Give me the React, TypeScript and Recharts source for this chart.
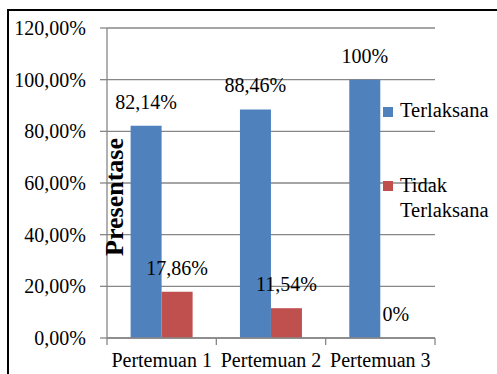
import React from 'react';
import { BarChart, Bar, XAxis, YAxis, CartesianGrid, LabelList } from 'recharts';

const categories = ['Pertemuan 1', 'Pertemuan 2', 'Pertemuan 3'];
const terlaksana = [82.14, 88.46, 100];
const tidakTerlaksana = [17.86, 11.54, 0];
const yTicks = [0, 20, 40, 60, 80, 100, 120];
const seriesNames = ['Terlaksana', 'Tidak Terlaksana'];
const seriesColors = ['#4F81BD', '#C0504D'];
const axisTitle = 'Presentase';

const data = categories.map((c, i) => ({ name: c, t: terlaksana[i], tt: tidakTerlaksana[i] }));

const W = 497;
const H = 374;
const M = { top: 28, right: 62, bottom: 0, left: 47 };
const Y_W = 60;
const X_H = 36;
const PLOT_W = W - M.left - Y_W - M.right;
const PLOT_BOTTOM = H - M.bottom - X_H;
const BAND = PLOT_W / categories.length;
const FONT = '"Liberation Serif", "Times New Roman", serif';
const GRID = '#878787';
const LABEL_OFFSET = 17;

const fmtTick = (v: number) => v.toFixed(2).replace('.', ',') + '%';
const fmtLabel = (v: number) =>
  Number.isInteger(v) ? `${v}%` : v.toFixed(2).replace('.', ',') + '%';

const XTick = (props: any) => {
  const { x, payload, index } = props;
  const half = BAND / 2;
  const y = PLOT_BOTTOM;
  return (
    <g>
      <line x1={x - half} x2={x - half} y1={y} y2={y + 7} stroke={GRID} strokeWidth={1.3} />
      {index === categories.length - 1 && (
        <line x1={x + half} x2={x + half} y1={y} y2={y + 7} stroke={GRID} strokeWidth={1.3} />
      )}
      <text x={x} y={y + 28.5} textAnchor="middle" fontFamily={FONT} fontSize={20} fill="#000">
        {payload.value}
      </text>
    </g>
  );
};

const YTitle = (props: any) => {
  const vb = props.viewBox;
  const cx = vb.x + vb.width + 16;
  const cy = vb.y + vb.height / 2 + 14;
  return (
    <text
      x={cx}
      y={cy}
      transform={`rotate(-90, ${cx}, ${cy})`}
      textAnchor="middle"
      fontFamily={FONT}
      fontSize={26}
      fontWeight="bold"
      fill="#000"
    >
      {axisTitle}
    </text>
  );
};

// Label for a zero-valued red bar (Recharts does not emit a label for a zero-height bar).
// Positioned from the neighbouring blue bar's geometry, which comes from the library's scale.
const ZeroRedLabel = (props: any) => {
  const vb = props.viewBox ?? props;
  const index = props.index;
  if (index == null) return null;
  const red = tidakTerlaksana[index];
  const blue = terlaksana[index];
  if (red !== 0 || !blue) return null;
  const base = vb.y + vb.height;
  const pxPerUnit = vb.height / blue;
  const top = base - red * pxPerUnit;
  const cx = vb.x + vb.width * 1.5;
  return (
    <text x={cx} y={top - LABEL_OFFSET} textAnchor="middle" fontFamily={FONT} fontSize={20} fill="#000">
      {fmtLabel(red)}
    </text>
  );
};

export default function App() {
  return (
    <div style={{ position: 'absolute', left: 0, top: 0, width: W, height: H, overflow: 'hidden', background: '#fff' }}>
      <div style={{ position: 'absolute', left: 7, top: 9, width: 2, height: H, background: '#000' }} />
      <div style={{ position: 'absolute', left: 7, top: 9, width: W, height: 2, background: '#000' }} />
      <BarChart
        width={W}
        height={H}
        data={data}
        margin={M}
        barCategoryGap="21.6%"
        barGap={0}
        style={{ position: 'absolute', left: 0, top: 0 }}
      >
        <CartesianGrid vertical={false} stroke={GRID} strokeWidth={1.3} />
        <XAxis
          dataKey="name"
          height={X_H}
          axisLine={{ stroke: GRID, strokeWidth: 1.3 }}
          tickLine={false}
          tickSize={0}
          tickMargin={0}
          tick={<XTick />}
          interval={0}
        />
        <YAxis
          width={Y_W}
          domain={[0, 120]}
          ticks={yTicks}
          tickFormatter={fmtTick}
          axisLine={{ stroke: GRID, strokeWidth: 1.3 }}
          tickLine={{ stroke: GRID, strokeWidth: 1.3 }}
          tickSize={7}
          tickMargin={14}
          tick={{ fontFamily: FONT, fontSize: 20, fill: '#000' }}
          label={<YTitle />}
        />
        <Bar dataKey="t" name={seriesNames[0]} fill={seriesColors[0]} isAnimationActive={false}>
          <LabelList dataKey="t" position="top" offset={LABEL_OFFSET} formatter={fmtLabel as any}
            style={{ fontFamily: FONT, fontSize: 20, fill: '#000' }} />
          <LabelList dataKey="t" content={<ZeroRedLabel />} />
        </Bar>
        <Bar dataKey="tt" name={seriesNames[1]} fill={seriesColors[1]} isAnimationActive={false}>
          <LabelList dataKey="tt" position="top" offset={LABEL_OFFSET} formatter={fmtLabel as any}
            style={{ fontFamily: FONT, fontSize: 20, fill: '#000' }} />
        </Bar>
      </BarChart>
      <svg width={W} height={H} style={{ position: 'absolute', left: 0, top: 0, pointerEvents: 'none' }}>
        <rect x={383} y={107} width={10} height={10} fill={seriesColors[0]} />
        <text x={400} y={117} fontFamily={FONT} fontSize={20.5} fill="#000">{seriesNames[0]}</text>
        <rect x={383} y={181} width={10} height={10} fill={seriesColors[1]} />
        <text x={400} y={192} fontFamily={FONT} fontSize={20.5} fill="#000">
          <tspan x={400}>{seriesNames[1].split(' ')[0]}</tspan>
          <tspan x={400} dy={25}>{seriesNames[1].split(' ')[1]}</tspan>
        </text>
      </svg>
    </div>
  );
}
